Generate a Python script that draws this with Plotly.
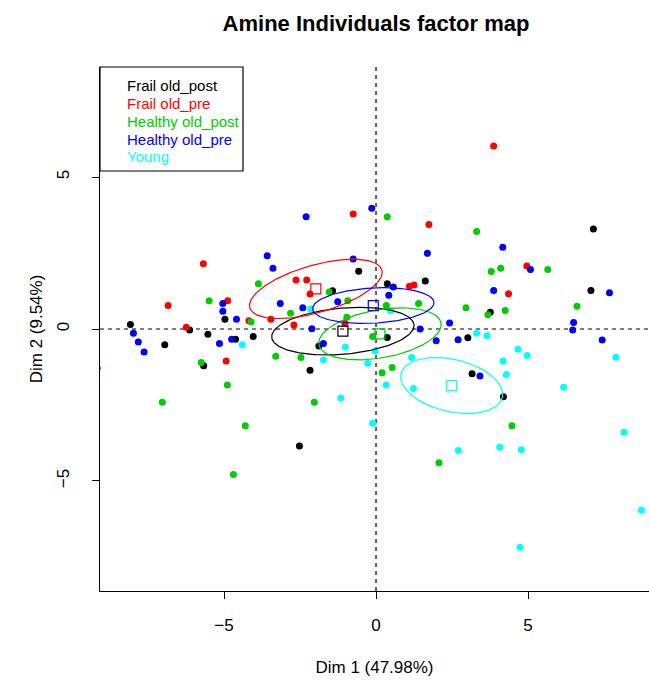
import numpy as np
import plotly.graph_objects as go

# ---------------- data ----------------
groups = ["Frail old_post", "Frail old_pre", "Healthy old_post", "Healthy old_pre", "Young"]
colors = ["#000000", "#FF0000", "#00CD00", "#0000FF", "#00FFFF"]

frail_post_x = [-8.08, -6.13, -5.53, -4.04, -4.62, -4.97, -6.95, -5.67, -0.57, -1.43, 0.37,
                1.62, 0.37, -1.88, -2.17, -2.52, 7.15, 7.07, 3.76, 3.02, 3.16, 4.19]
frail_post_y = [0.15, -0.03, -0.17, -0.25, -0.34, 0.32, -0.52, -1.21, 1.90, 1.26, 1.49,
                1.58, -0.28, -0.56, -1.36, -3.85, 3.29, 1.27, 0.55, -0.29, -1.47, -2.23]

frail_pre_x = [-5.68, -4.88, -6.84, -4.18, -3.46, -6.24, -4.93, -9.17, -0.75, 1.74,
               -2.63, -2.28, -2.17, 1.10, 1.25, -1.02, -2.70, 3.87, 4.96, 4.36]
frail_pre_y = [2.15, 0.93, 0.77, 0.27, 0.32, 0.06, -1.05, -1.29, 3.78, 3.44,
               1.61, 1.61, 1.15, 1.41, 1.45, 0.19, 0.13, 6.02, 2.07, 1.16]

healthy_post_x = [-3.87, -5.49, -4.11, -3.30, -5.75, -4.89, -7.03, -4.30, -4.69, 0.37, -1.54,
                  -0.93, 0.34, 1.40, -2.81, -0.96, -0.11, -2.47, 0.20, 0.53, -2.03, 2.07,
                  3.31, 4.10, 3.79, 5.65, 6.61, 2.96, 3.68, 4.25, 4.47]
healthy_post_y = [1.49, 0.93, 0.23, -0.90, -1.10, -1.84, -2.41, -3.18, -4.79, 3.69, 1.22,
                  0.93, 0.77, 0.84, 0.52, 0.39, -0.25, -0.94, -1.44, -1.27, -2.41, -4.40,
                  3.21, 2.00, 1.89, 1.96, 0.75, 0.70, 0.47, 0.61, -3.18]

healthy_pre_x = [-3.58, -3.39, -5.04, -5.04, -4.59, -3.15, -7.98, -4.75, -7.82, -7.63, -5.15,
                 -2.30, -0.14, 1.69, -0.75, 0.57, 0.42, -2.41, -1.26, -2.11, 1.45, 2.42,
                 -1.73, 1.98, 2.70, 4.17, 5.08, 3.87, 7.68, 6.50, 6.47, 7.44, 3.42]
healthy_pre_y = [2.41, 2.00, 0.84, 0.58, 0.32, 0.84, -0.14, -0.34, -0.43, -0.76, -0.48,
                 3.69, 3.97, 2.49, 2.30, 1.38, 1.11, 0.70, 0.90, 0.01, 0.00, 0.20,
                 -0.48, -0.39, -0.35, 2.69, 1.96, 1.27, 1.19, 0.21, -0.03, -0.36, -1.55]

young_x = [-4.40, -2.15, 0.48, -1.01, -0.03, -1.73, -0.27, 1.17, 0.33, 1.23, -1.16, -0.11, 2.71,
           3.31, 3.65, 7.89, 4.67, 4.97, 4.18, 4.29, 6.17, 8.16, 4.07, 4.78, 8.73, 4.74]
young_y = [-0.52, 0.66, 0.60, -0.59, -0.72, -1.02, -1.13, -0.94, -1.84, -1.96, -2.27, -3.10, -4.00,
           -0.14, -0.22, -0.93, -0.67, -0.87, -1.05, -1.50, -1.92, -3.40, -3.89, -3.97, -5.96, -7.18]

group_x = [frail_post_x, frail_pre_x, healthy_post_x, healthy_pre_x, young_x]
group_y = [frail_post_y, frail_pre_y, healthy_post_y, healthy_pre_y, young_y]

# group centres (squares) and confidence ellipses
centroid_x = [-1.09, -1.98, 0.13, -0.09, 2.49]
centroid_y = [-0.07, 1.32, -0.16, 0.77, -1.86]
ellipse_a = [2.35, 2.26, 2.04, 2.00, 1.71]
ellipse_b = [0.76, 0.78, 0.79, 0.58, 0.86]
ellipse_angle = [5, 16, 10, 3, -13]

x_ticks = [-5, 0, 5]
y_ticks = [-5, 0, 5]

# ---------------- figure ----------------
FONT = "Liberation Sans, Arial, sans-serif"
W, H = 649, 682
L, T, B = 100, 67, 91
PW, PH = W - L, H - T - B

fig = go.Figure()

for gx, gy, col, name in zip(group_x, group_y, colors, groups):
    fig.add_trace(go.Scatter(x=gx, y=gy, mode="markers", name=name,
                             marker=dict(color=col, size=7, line=dict(width=0)),
                             showlegend=False, cliponaxis=True))

t = np.linspace(0, 2 * np.pi, 241)
for cx, cy, a, b, ang, col in zip(centroid_x, centroid_y, ellipse_a, ellipse_b, ellipse_angle, colors):
    th = np.deg2rad(ang)
    ex = cx + a * np.cos(t) * np.cos(th) - b * np.sin(t) * np.sin(th)
    ey = cy + a * np.cos(t) * np.sin(th) + b * np.sin(t) * np.cos(th)
    fig.add_trace(go.Scatter(x=ex, y=ey, mode="lines", line=dict(color=col, width=1.2),
                             showlegend=False, hoverinfo="skip"))

for cx, cy, col in zip(centroid_x, centroid_y, colors):
    fig.add_trace(go.Scatter(x=[cx], y=[cy], mode="markers", showlegend=False,
                             marker=dict(symbol="square-open", size=10, color=col,
                                         line=dict(width=1.2, color=col))))

# dashed reference lines
fig.add_shape(type="line", xref="x", yref="paper", x0=0, x1=0, y0=0, y1=1,
              line=dict(color="black", width=1.2, dash="4px,4px"), layer="below")
fig.add_shape(type="line", xref="paper", yref="y", x0=0, x1=1, y0=0, y1=0,
              line=dict(color="black", width=1.2, dash="4px,4px"), layer="below")

# legend box (text only, coloured)
fig.add_shape(type="rect", xref="paper", yref="paper",
              x0=0, x1=(243 - 100) / PW, y0=1 - (171 - 67) / PH, y1=1,
              line=dict(color="black", width=1.2), fillcolor="white", layer="below")
for i, (name, col) in enumerate(zip(groups, colors)):
    ypix = 86 + i * 17.7
    fig.add_annotation(xref="paper", yref="paper", x=(125 - 100) / PW,
                       y=1 - (ypix - 67) / PH, text=name, showarrow=False,
                       xanchor="left", yanchor="middle",
                       font=dict(family=FONT, size=15, color=col))

fig.update_layout(
    width=W, height=H,
    margin=dict(l=L, r=0, t=T, b=B, pad=0),
    paper_bgcolor="white", plot_bgcolor="white",
    title=dict(text="<b>Amine Individuals factor map</b>", x=376 / W, xanchor="center",
               y=1 - 23 / H, yanchor="middle", font=dict(family=FONT, size=22, color="black")),
    font=dict(family=FONT, color="black"),
)
fig.update_xaxes(range=[-9.08, 8.98], tickvals=x_ticks, ticks="outside", ticklen=7,
                 tickwidth=1, tickcolor="black", showgrid=False, zeroline=False,
                 showline=True, linecolor="black", linewidth=1.2, mirror=False,
                 ticklabelstandoff=11, tickfont=dict(family=FONT, size=17, color="black"),
                 title=dict(text="Dim 1 (47.98%)", font=dict(family=FONT, size=17), standoff=27))
fig.update_yaxes(range=[-8.62, 8.62], tickvals=y_ticks, ticks="outside", ticklen=7,
                 tickwidth=1, tickcolor="black", showgrid=False, zeroline=False,
                 showline=True, linecolor="black", linewidth=1.2, mirror=False,
                 tickangle=-90, ticklabelstandoff=16,
                 tickfont=dict(family=FONT, size=17, color="black"),
                 title=dict(text="Dim 2 (9.54%)", font=dict(family=FONT, size=17), standoff=7))

fig.write_html("out.html", config={"displayModeBar": False},
               post_script="document.body.style.margin='0';document.body.style.overflow='hidden';")
